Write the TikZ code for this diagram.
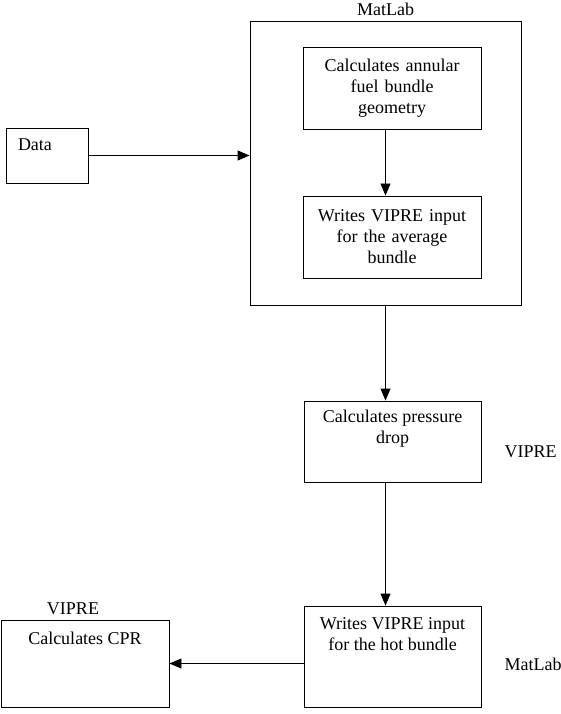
\documentclass[tikz,border=0pt]{standalone}
\usepackage{fontspec}
\setmainfont{Liberation Serif}
\usetikzlibrary{arrows.meta}
\usetikzlibrary{calc}
\usetikzlibrary{positioning}

\tikzset{
  box/.style={draw, line width=0.9pt, inner sep=0pt, align=center},
  flow/.style={draw, line width=0.9pt, -{Triangle[length=12pt,width=10pt]}},
  tag/.style={inner sep=1pt}
}
% text placed at the top of a box: width, height, top pad, text
\newcommand{\boxtop}[4]{\parbox[c][#2][t]{#1}{\centering\vspace*{#3}#4\par}}
\newcommand{\boxleft}[4]{\parbox[c][#2][t]{#1}{\vspace*{#3}\hspace*{12pt}#4\par}}

\begin{document}
\begin{tikzpicture}[x=1pt,y=-1pt,font=\fontsize{18}{21}\selectfont]
        \useasboundingbox (0,0) rectangle (561,714);

        \node[box] (data) at (47,155.5) {\boxleft{82pt}{55pt}{11pt}{Data}};

        \node[box, minimum width=271pt, minimum height=284pt] (matlab) at (385.5,163) {};
        \node[tag, above=4pt of matlab] (matlabtag) {MatLab};

        \node[box, text width=178pt, minimum height=82pt] (geom) at (392,88) {Calculates annular\\fuel bundle\\geometry};
        \node[box, text width=178pt, minimum height=82pt] (avg) at (392,237) {Writes VIPRE input\\for the average\\bundle};

        \node[box] (drop) at (392.5,441.5) {\boxtop{177pt}{81pt}{9pt}{Calculates pressure\\drop}};
        \node[tag, right=22pt of drop, yshift=-10pt] (dropTag) {VIPRE};

        \node[box] (hot) at (392.5,656.5) {\boxtop{177pt}{101pt}{12pt}{Writes VIPRE input\\for the hot bundle}};
        \node[tag, right=22pt of hot, yshift=-8pt] (hotTag) {MatLab};

        \node[box] (cpr) at (85,663.5) {\boxtop{168pt}{87pt}{12pt}{Calculates CPR}};
        \node[tag, above=4pt of cpr, xshift=-12pt] (cprTag) {VIPRE};

        \draw[flow] (data.east) -- (data.east -| matlab.west);
        \draw[flow] (geom.south -| matlab.center) -- (avg.north -| matlab.center);
        \draw[flow] (matlab.south) -- (matlab.south |- drop.north);
        \draw[flow] (drop.south -| matlab.south) -- (hot.north -| matlab.south);
        \draw[flow] (hot.west |- cpr.east) -- (cpr.east);

    \end{tikzpicture}
\end{document}
